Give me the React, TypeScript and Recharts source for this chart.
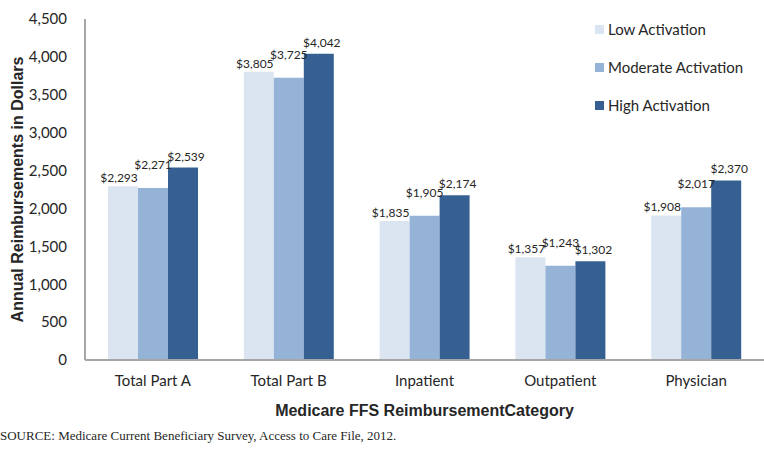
import { BarChart, Bar, XAxis, YAxis, LabelList } from "recharts";

const categories = ["Total Part A", "Total Part B", "Inpatient", "Outpatient", "Physician"];
const lowActivation = [2293, 3805, 1835, 1357, 1908];
const moderateActivation = [2271, 3725, 1905, 1243, 2017];
const highActivation = [2539, 4042, 2174, 1302, 2370];
const yTicks = [0, 500, 1000, 1500, 2000, 2500, 3000, 3500, 4000, 4500];

const series = [
  { key: "low", name: "Low Activation", color: "#dbe5f1", lift: 4, shift: -4 },
  { key: "moderate", name: "Moderate Activation", color: "#95b3d7", lift: 19, shift: 0 },
  { key: "high", name: "High Activation", color: "#366092", lift: 7, shift: 3 },
];

const data = categories.map((name, i) => ({
  name,
  low: lowActivation[i],
  moderate: moderateActivation[i],
  high: highActivation[i],
}));

const FONT = "Lato, 'Open Sans', sans-serif";
const BOLD = "'Liberation Sans', Arial, sans-serif";
const TEXT = "#262626";

const fmt = (v: number) => "$" + v.toLocaleString("en-US");

// value label sitting a little above the bar top, nudged sideways so neighbours don't collide
const makeLabel = (lift: number, shift: number) => (props: any) => {
  const { x, y, width, value } = props;
  return (
    <text
      x={x + width / 2 + shift}
      y={y - lift}
      textAnchor="middle"
      fontSize={12}
      fontFamily={FONT}
      fill={TEXT}
    >
      {fmt(value)}
    </text>
  );
};

export default function App() {
  return (
    <div style={{ position: "absolute", top: 0, left: 0, width: 764, height: 456, background: "#fff" }}>
      <BarChart
        width={764}
        height={456}
        data={data}
        margin={{ top: 19, right: 0, left: 0, bottom: 36 }}
        barGap={0}
      >
        <YAxis
          width={85}
          domain={[0, 4500]}
          ticks={yTicks}
          tickFormatter={(v: number) => v.toLocaleString("en-US")}
          axisLine={{ stroke: "#a6a6a6", strokeWidth: 2 }}
          tickLine={false}
          tick={{ fontSize: 15, fontFamily: FONT, fill: TEXT }}
          tickMargin={12}
          label={{
            value: "Annual Reimbursements in Dollars",
            angle: -90,
            position: "insideLeft",
            offset: 17,
            style: { fontSize: 16, fontWeight: "bold", fontFamily: BOLD, fill: TEXT, textAnchor: "middle" },
          }}
        />
        <XAxis
          dataKey="name"
          height={60}
          axisLine={{ stroke: "#a6a6a6", strokeWidth: 2 }}
          tickLine={false}
          tick={{ fontSize: 15, fontFamily: FONT, fill: TEXT }}
          tickMargin={9}
          label={{
            value: "Medicare FFS ReimbursementCategory",
            position: "insideBottom",
            offset: 4,
            style: { fontSize: 16, fontWeight: "bold", fontFamily: BOLD, fill: TEXT },
          }}
        />
        {series.map((s) => (
          <Bar key={s.key} dataKey={s.key} name={s.name} fill={s.color} barSize={30} isAnimationActive={false}>
            <LabelList dataKey={s.key} content={makeLabel(s.lift, s.shift)} />
          </Bar>
        ))}
      </BarChart>
      <div style={{ position: "absolute", left: 595, top: 10, fontFamily: FONT, fontSize: 15, color: TEXT }}>
        {series.map((s) => (
          <div key={s.key} style={{ display: "flex", alignItems: "center", height: 38 }}>
            <span style={{ width: 9, height: 9, background: s.color, marginRight: 4 }} />
            {s.name}
          </div>
        ))}
      </div>
      <div
        style={{
          position: "absolute",
          left: 0,
          top: 428,
          fontFamily: "'Liberation Serif', 'DejaVu Serif', serif",
          fontSize: 13,
          color: TEXT,
          whiteSpace: "nowrap",
        }}
      >
        SOURCE: Medicare Current Beneficiary Survey, Access to Care File, 2012.
      </div>
    </div>
  );
}
